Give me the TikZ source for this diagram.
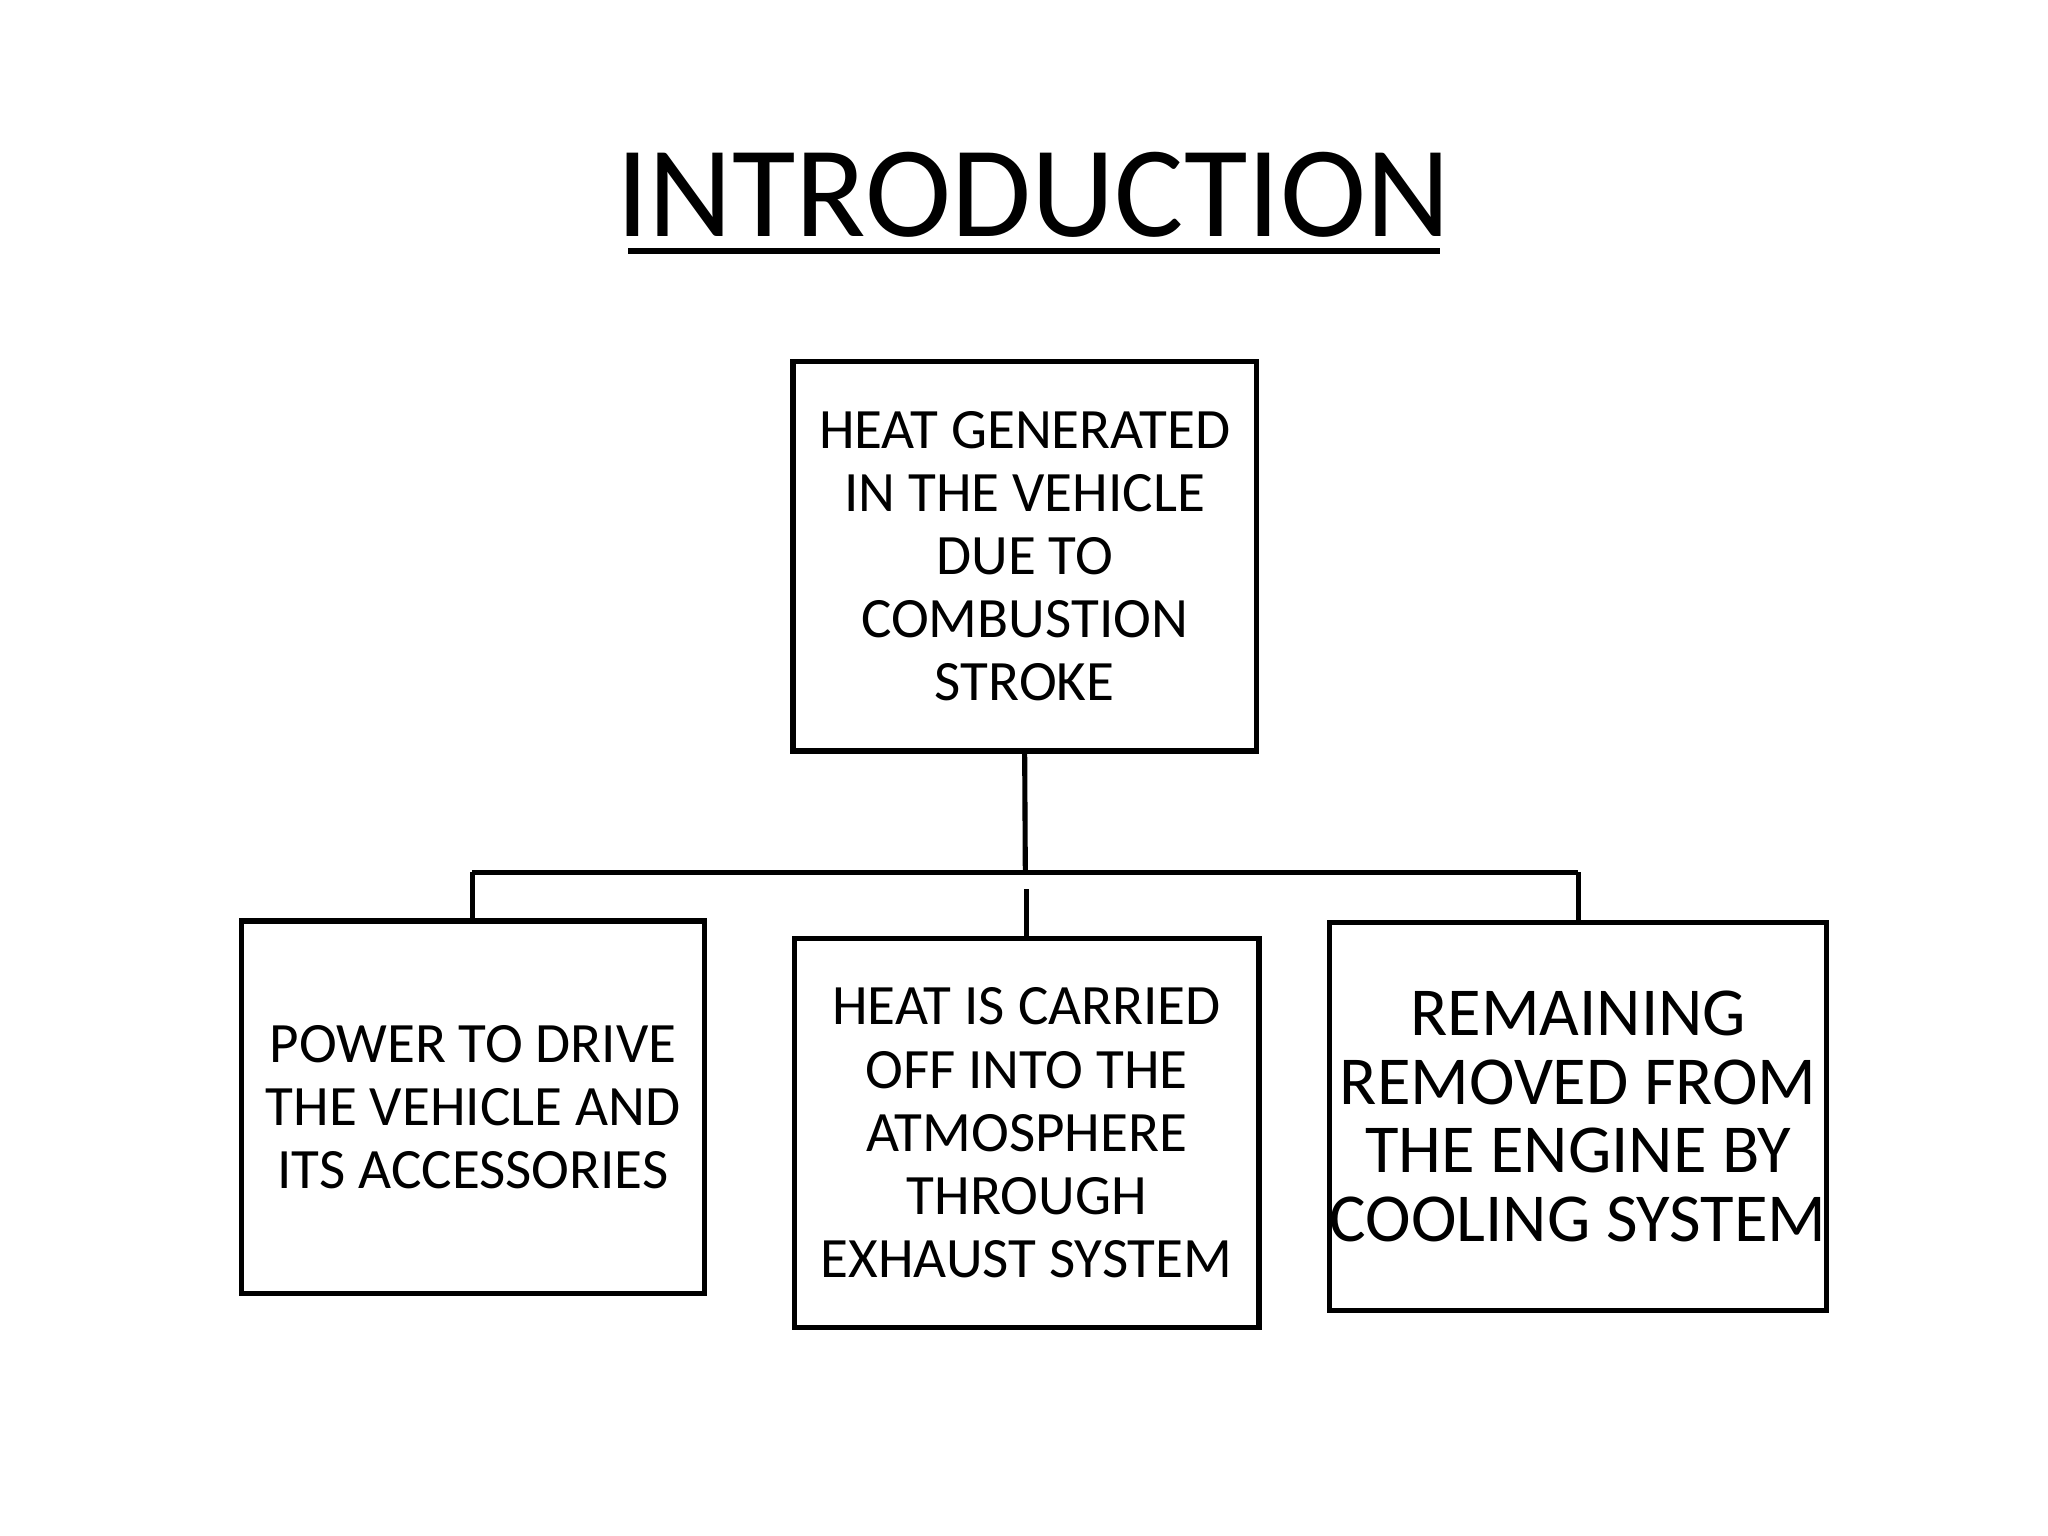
\documentclass[tikz,border=0pt]{standalone}
\usepackage{fontspec}
\setmainfont{Carlito}
\begin{document}
\begin{tikzpicture}[x=0.01cm,y=-0.01cm,
  box/.style={draw,line width=1.1pt,inner sep=0pt,align=center},
  ln/.style={line width=1.1pt}]
\useasboundingbox (0,0) rectangle (1552,1164);
\node[font=\fontsize{28}{30}\selectfont] (title) at (783,148) {INTRODUCTION};
\draw[line width=1.3pt] (476,190) -- (1091,190);
\node[box,minimum width=3.51cm,minimum height=2.95cm,font=\fontsize{12.3}{13.6}\selectfont] (top) at (776.5,421.5) {HEAT GENERATED\\IN THE VEHICLE\\DUE TO\\COMBUSTION\\STROKE};
\node[box,minimum width=3.51cm,minimum height=2.82cm,font=\fontsize{12.3}{13.6}\selectfont] (l) at (358.5,839) {POWER TO DRIVE\\THE VEHICLE AND\\ITS ACCESSORIES};
\node[box,minimum width=3.52cm,minimum height=2.95cm,font=\fontsize{12.3}{13.6}\selectfont] (m) at (778,858.5) {HEAT IS CARRIED\\OFF INTO THE\\ATMOSPHERE\\THROUGH\\EXHAUST SYSTEM};
\node[box,minimum width=3.52cm,minimum height=2.94cm,font=\fontsize{14.8}{14.8}\selectfont] (r) at (1196,846) {REMAINING\\REMOVED FROM\\THE ENGINE BY\\COOLING SYSTEM};
\coordinate (j) at (777,661);
\coordinate (jl) at (358,661);
\coordinate (jr) at (1196,661);
\draw[ln] (top.south) -- (j);
\draw[ln] (jl) -- (jr);
\draw[ln] (jl) -- (l.north -| jl);
\draw[ln] (jr) -- (r.north -| jr);
\draw[ln] (778,674) -- (m.north);
\end{tikzpicture}
\end{document}
